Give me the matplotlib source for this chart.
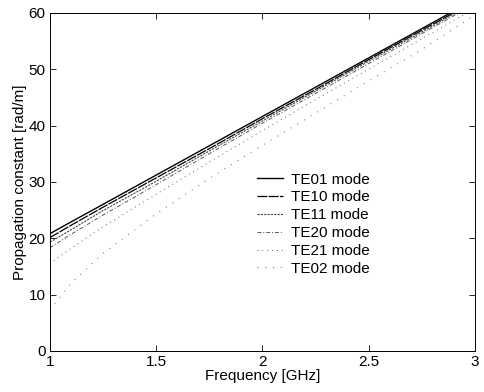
import matplotlib
matplotlib.use("Agg")
import matplotlib.pyplot as plt

plt.rcParams['font.family'] = ['Liberation Sans', 'DejaVu Sans']

## Data (propagation constant in rad/m)

freq = [1.0, 1.1, 1.25, 1.5, 1.75, 2.0, 2.25, 2.5, 2.75, 3.0]
te01 = [20.8, 22.9, 26.0, 31.2, 36.4, 41.6, 46.8, 52.0, 57.2, 62.4]
te10 = [20.1, 22.3, 25.5, 30.7, 35.9, 41.2, 46.4, 51.7, 56.9, 62.1]
te11 = [19.3, 21.5, 24.9, 30.1, 35.5, 40.8, 46.1, 51.4, 56.6, 61.9]
te20 = [18.3, 20.7, 24.1, 29.5, 35.0, 40.4, 45.7, 51.0, 56.3, 61.6]
te21 = [15.5, 18.2, 22.0, 27.8, 33.5, 39.1, 44.6, 50.0, 55.4, 60.8]
te02 = [7.3, 12.0, 17.3, 24.3, 30.6, 36.5, 42.2, 47.9, 53.5, 59.6]

labels = ["TE01 mode", "TE10 mode", "TE11 mode", "TE20 mode", "TE21 mode", "TE02 mode"]

fig = plt.figure(figsize=(4.84, 3.92), dpi=100)
ax = fig.add_axes([0.103, 0.105, 0.878, 0.862])

ax.plot(freq, te01, color="black", lw=1.0, ls="-", label=labels[0])
ax.plot(freq, te10, color="black", lw=0.9, ls=(0, (8, 1)), label=labels[1])
ax.plot(freq, te11, color="#444444", lw=0.8, ls=(0, (2, 1)), label=labels[2])
ax.plot(freq, te20, color="#555555", lw=0.7, ls=(0, (4, 2, 1, 2)), label=labels[3])
ax.plot(freq, te21, color="#666666", lw=0.7, ls=(0, (1, 4)), label=labels[4])
ax.plot(freq, te02, color="#666666", lw=0.7, ls=(0, (1, 7)), label=labels[5])

ax.set_xlim(1, 3)
ax.set_ylim(0, 60)
ax.set_xticks([1, 1.5, 2, 2.5, 3])
ax.set_xticklabels(["1", "1.5", "2", "2.5", "3"])
ax.set_yticks([0, 10, 20, 30, 40, 50, 60])
ax.tick_params(direction="in", top=True, right=True, labelsize=11, length=4, width=0.6, pad=3)
for s in ax.spines.values():
    s.set_linewidth(0.7)

ax.set_xlabel("Frequency [GHz]", fontsize=11, labelpad=0)
ax.set_ylabel("Propagation constant [rad/m]", fontsize=11, labelpad=1)

ax.legend(loc="upper left", bbox_to_anchor=(0.47, 0.55), frameon=False, fontsize=11,
          handlelength=1.7, handletextpad=0.5, labelspacing=0.25, borderpad=0)

plt.savefig("out.png", dpi=100)
